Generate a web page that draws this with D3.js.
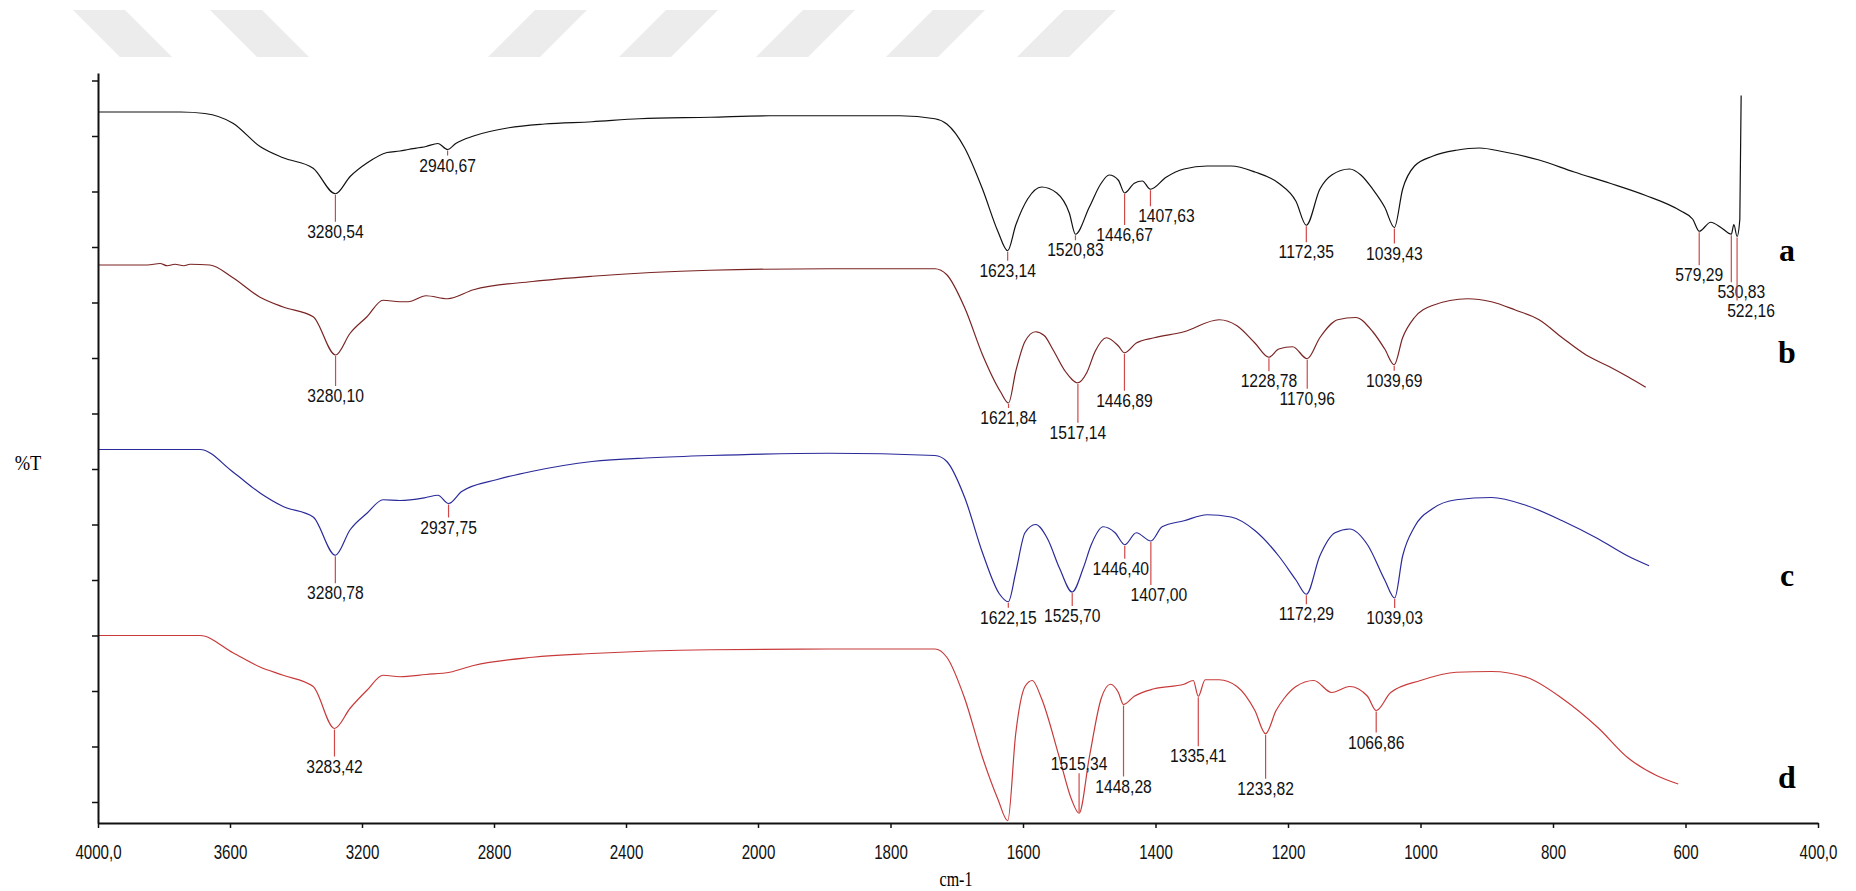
<!DOCTYPE html>
<html>
<head>
<meta charset="utf-8">
<script src="https://cdn.jsdelivr.net/npm/d3@7"></script>
<style>
  body { margin: 0; background: #fff; }
  svg { display: block; }
</style>
</head>
<body>
<svg id="chart" width="1856" height="891"></svg>
<script>
// ---- data (wavenumber cm-1, %T) ----
var xTicks = [4000, 3600, 3200, 2800, 2400, 2000, 1800, 1600, 1400, 1200, 1000, 800, 600, 400];
var yTicks = [2.8, 10.2, 17.6, 25.0, 32.4, 39.8, 47.2, 54.6, 62.0, 69.4, 76.8, 84.2, 91.6, 99.0];
var sampleNames = ['a', 'b', 'c', 'd'];

var spectrumA = [
  [4000, 94.8], [3750, 94.8], [3676, 94.6], [3591, 93.3], [3509, 90.2], [3439, 88.7],
  [3348, 87.3], [3280.54, 83.9], [3236, 86.2], [3185, 88.0], [3124, 89.4], [3085, 89.6],
  [3060, 89.8], [3006, 90.2], [2970, 90.6], [2940.67, 89.8], [2916, 90.6], [2862, 91.6],
  [2755, 92.7], [2647, 93.2], [2503, 93.5], [2360, 93.9], [2145, 94.1], [1983, 94.3],
  [1893, 94.3], [1786, 94.3], [1733, 93.9], [1715, 93.2], [1688, 90.0], [1661, 84.5],
  [1638, 78.9], [1623.14, 76.3], [1611, 79.7], [1593, 83.2], [1572, 84.8], [1549, 84.0],
  [1530, 81.3], [1520.83, 78.5], [1500, 82.1], [1482, 85.3], [1470, 86.4], [1456, 85.7],
  [1446.67, 84.0], [1432, 85.3], [1420, 85.6], [1407.63, 84.5], [1384, 86.1], [1357, 87.2],
  [1322, 87.6], [1286, 87.6], [1250, 86.8], [1214, 85.3], [1188, 82.9], [1172.35, 79.7],
  [1152, 84.5], [1134, 86.4], [1107, 87.2], [1090, 86.4], [1072, 84.5], [1054, 82.1],
  [1039.43, 79.4], [1027, 84.5], [1009, 87.6], [982, 88.9], [946, 89.7], [911, 90.0],
  [875, 89.5], [821, 88.4], [768, 86.8], [714, 85.3], [661, 83.7], [607, 81.6],
  [589, 80.5], [579.29, 78.9], [562, 80.1], [545, 79.3], [530.83, 78.5], [527, 79.8],
  [522.16, 78.2], [518, 80.5], [516, 97.0]
];

var spectrumB = [
  [4000, 74.4], [3850, 74.4], [3812, 74.6], [3790, 74.3], [3767, 74.5], [3740, 74.3],
  [3721, 74.5], [3661, 74.4], [3591, 72.7], [3509, 70.1], [3439, 68.8], [3348, 67.5],
  [3280.10, 62.4], [3236, 65.3], [3185, 67.5], [3136, 69.7], [3085, 69.5], [3060, 69.5],
  [3006, 70.3], [2941, 69.9], [2862, 71.1], [2683, 72.2], [2503, 72.9], [2324, 73.4],
  [2145, 73.7], [1893, 73.9], [1733, 73.9], [1715, 73.1], [1688, 68.7], [1661, 62.4],
  [1634, 57.5], [1621.84, 56.0], [1611, 60.2], [1597, 64.2], [1581, 65.5], [1568, 65.0],
  [1554, 63.0], [1536, 60.2], [1517.14, 58.7], [1504, 60.0], [1491, 62.9], [1474, 64.7],
  [1456, 63.6], [1446.89, 62.7], [1429, 64.0], [1402, 64.7], [1357, 65.5], [1304, 67.1],
  [1277, 66.3], [1250, 64.0], [1228.78, 62.1], [1214, 63.2], [1193, 63.5], [1170.96, 61.9],
  [1152, 64.7], [1125, 67.1], [1098, 67.4], [1072, 65.5], [1054, 63.2], [1039.69, 61.1],
  [1027, 64.7], [1009, 67.4], [982, 69.0], [929, 69.9], [893, 69.5], [857, 68.4],
  [821, 67.1], [786, 64.7], [750, 62.4], [714, 60.8], [687, 59.5], [660, 58.1]
];

var spectrumC = [
  [4000, 49.8], [3691, 49.8], [3591, 46.8], [3509, 44.0], [3439, 42.2], [3348, 40.8],
  [3280.78, 35.7], [3236, 39.1], [3185, 41.3], [3136, 43.1], [3085, 43.0], [3006, 43.4],
  [2970, 43.7], [2937.75, 42.6], [2898, 44.2], [2790, 45.8], [2683, 46.9], [2503, 48.2],
  [2324, 48.7], [2145, 49.0], [1893, 49.3], [1733, 49.0], [1715, 48.2], [1688, 43.4],
  [1661, 36.0], [1636, 30.6], [1622.15, 29.5], [1611, 33.4], [1597, 38.7], [1581, 39.8],
  [1563, 37.9], [1545, 34.0], [1525.70, 30.8], [1509, 34.0], [1497, 37.1], [1479, 39.5],
  [1461, 38.7], [1446.40, 37.1], [1429, 38.7], [1407.00, 37.6], [1390, 39.5], [1357, 40.3],
  [1322, 41.1], [1286, 40.8], [1250, 39.0], [1214, 35.6], [1188, 32.4], [1172.29, 30.5],
  [1152, 35.6], [1129, 38.7], [1107, 39.2], [1080, 37.1], [1054, 32.4], [1039.03, 30.0],
  [1027, 35.6], [1009, 39.5], [982, 41.9], [946, 43.1], [893, 43.4], [839, 42.3],
  [786, 40.3], [732, 37.9], [687, 35.6], [655, 34.3]
];

var spectrumD = [
  [4000, 25.0], [3691, 25.0], [3591, 22.7], [3509, 20.8], [3439, 19.7], [3348, 18.2],
  [3283.42, 12.6], [3236, 15.3], [3185, 17.7], [3136, 19.7], [3085, 19.5], [3006, 19.8],
  [2934, 20.1], [2862, 21.0], [2683, 22.1], [2503, 22.6], [2145, 23.1], [1893, 23.2],
  [1733, 23.2], [1715, 22.1], [1688, 16.6], [1661, 8.7], [1638, 3.2], [1623, 0.3],
  [1611, 11.9], [1597, 18.2], [1586, 19.0], [1572, 16.6], [1545, 8.7], [1527, 3.2],
  [1515.34, 1.3], [1500, 8.7], [1482, 16.6], [1468, 18.5], [1456, 17.4], [1448.28, 15.8],
  [1432, 16.9], [1402, 17.9], [1357, 18.5], [1343, 19.0], [1335.41, 16.9], [1325, 19.1],
  [1304, 19.1], [1277, 18.2], [1250, 15.0], [1233.82, 11.9], [1218, 15.0], [1206, 16.6],
  [1188, 18.2], [1161, 19.0], [1134, 17.4], [1107, 18.2], [1080, 16.9], [1066.86, 15.0],
  [1045, 17.4], [1000, 19.0], [946, 20.1], [893, 20.2], [839, 19.4], [786, 16.6],
  [732, 12.7], [687, 8.7], [643, 6.3], [611, 5.2]
];

var peaksA = [3280.54, 2940.67, 1623.14, 1520.83, 1446.67, 1407.63, 1172.35, 1039.43, 579.29, 530.83, 522.16];
var peaksB = [3280.10, 1621.84, 1517.14, 1446.89, 1228.78, 1170.96, 1039.69];
var peaksC = [3280.78, 2937.75, 1622.15, 1525.70, 1446.40, 1407.00, 1172.29, 1039.03];
var peaksD = [3283.42, 1515.34, 1448.28, 1335.41, 1233.82, 1066.86];

// ---- layout ----
var W = 1856, H = 891;
var plotLeft = 98, plotRight = 1818, plotTop = 73, plotBottom = 823;

// the instrument axis changes its scale at 2000 cm-1
var x = d3.scaleLinear().domain([4000, 2000, 400]).range([plotLeft, 758, plotRight]);
var y = d3.scaleLinear().domain([0, 100]).range([plotBottom, plotTop]);

var series = [
  { name: 'a', data: spectrumA, peaks: peaksA, color: '#111111' },
  { name: 'b', data: spectrumB, peaks: peaksB, color: '#7a2323' },
  { name: 'c', data: spectrumC, peaks: peaksC, color: '#2a2a9a' },
  { name: 'd', data: spectrumD, peaks: peaksD, color: '#c83a3a' }
];

// label baseline drop below the curve (px) and horizontal shift, per peak
var labelDrop = 44;
var labelTweak = {
  'a2940.67': { drop: 22 }, 'a1623.14': { drop: 26 }, 'a1520.83': { drop: 22 },
  'a1446.67': { drop: 48 }, 'a1407.63': { drop: 33, dx: 16 }, 'a1172.35': { drop: 33 },
  'a1039.43': { drop: 32 }, 'a579.29': { drop: 50 }, 'a530.83': { drop: 64, dx: 10 },
  'a522.16': { drop: 80, dx: 14 },
  'b3280.1': { drop: 47 },
  'b1621.84': { drop: 21 }, 'b1517.14': { drop: 56 }, 'b1446.89': { drop: 54 },
  'b1228.78': { drop: 30 }, 'b1170.96': { drop: 46 }, 'b1039.69': { drop: 22 },
  'c2937.75': { drop: 30 }, 'c1622.15': { drop: 22 }, 'c1525.7': { drop: 30 },
  'c1446.4': { drop: 30, dx: -4 }, 'c1407': { drop: 60, dx: 8 }, 'c1172.29': { drop: 26 },
  'c1039.03': { drop: 26 },
  'd1515.34': { drop: -43, up: 40 }, 'd1448.28': { drop: 88 }, 'd1335.41': { drop: 66 },
  'd1233.82': { drop: 61 }, 'd1066.86': { drop: 38 }
};
var nameY = { a: 251, b: 353, c: 576, d: 778 };

var svg = d3.select('#chart');

// faint watermark stripes at the top of the page
var stripes = svg.append('g').attr('fill', '#ececec');
[[73, 1], [210, 1], [488, -1], [619, -1], [756, -1], [886, -1], [1017, -1]].forEach(function (s) {
  var x0 = s[0], w = 52, k = 47, y0 = 10, y1 = 57;
  var pts = s[1] > 0
    ? [[x0, y0], [x0 + w, y0], [x0 + w + k, y1], [x0 + k, y1]]
    : [[x0 + k, y0], [x0 + k + w, y0], [x0 + w, y1], [x0, y1]];
  stripes.append('polygon').attr('points', pts.map(function (p) { return p.join(','); }).join(' '));
});

var fmtPeak = function (v) { return d3.format('.2f')(v).replace('.', ','); };
var sansFont = "'Liberation Sans', Arial, sans-serif";

// spectra
var line = d3.line()
  .x(function (d) { return x(d[0]); })
  .y(function (d) { return y(d[1]); })
  .curve(d3.curveMonotoneX);

series.forEach(function (s) {
  svg.append('path')
    .datum(s.data.slice().reverse())
    .attr('fill', 'none')
    .attr('stroke', s.color)
    .attr('stroke-width', 1.2)
    .attr('d', line);
});

// peak markers
series.forEach(function (s) {
  var lookup = new Map(s.data.map(function (d) { return [d[0], d[1]]; }));
  var g = svg.append('g');
  s.peaks.forEach(function (p) {
    var t = labelTweak[s.name + p] || {};
    var drop = t.drop !== undefined ? t.drop : labelDrop;
    var px = x(p), py = y(lookup.get(p));
    var y2 = t.up ? py - t.up : py + drop - 16;
    g.append('line')
      .attr('x1', px).attr('x2', px)
      .attr('y1', t.up ? py - 1 : py + 1)
      .attr('y2', y2)
      .attr('stroke', '#d04848').attr('stroke-width', 1.2);
    g.append('text')
      .attr('transform', 'translate(' + (px + (t.dx || 0)) + ',' + (py + drop) + ') scale(0.87,1)')
      .attr('text-anchor', 'middle')
      .style('font-family', sansFont)
      .style('font-size', '18px')
      .attr('fill', '#111')
      .text(fmtPeak(p));
  });
});

// axes
var xAxis = d3.axisBottom(x)
  .tickValues(xTicks)
  .tickSize(5)
  .tickSizeOuter(0)
  .tickFormat(function (d) { return (d === 4000 || d === 400) ? d + ',0' : d; });

var gx = svg.append('g').attr('transform', 'translate(0,' + plotBottom + ')').call(xAxis);
gx.select('.domain').attr('stroke', '#111').attr('stroke-width', 2);
gx.selectAll('.tick line').attr('stroke', '#111').attr('stroke-width', 1.5);
gx.selectAll('.tick text')
  .attr('dy', null).attr('y', null)
  .attr('transform', 'translate(0,36) scale(0.72,1)')
  .style('font-family', sansFont)
  .style('font-size', '21px')
  .attr('fill', '#111');

var yAxis = d3.axisLeft(y)
  .tickValues(yTicks)
  .tickSize(6)
  .tickSizeOuter(0)
  .tickFormat('');
var gy = svg.append('g').attr('transform', 'translate(' + plotLeft + ',0)').call(yAxis);
gy.select('.domain').attr('stroke', '#111').attr('stroke-width', 2);
gy.selectAll('.tick line').attr('stroke', '#111').attr('stroke-width', 1.5);

// axis titles
svg.append('text').attr('transform', 'translate(28,470) scale(0.88,1)').attr('text-anchor', 'middle')
  .style('font-family', "'Liberation Serif', serif").style('font-size', '21px').text('%T');
svg.append('text').attr('transform', 'translate(956,886) scale(0.8,1)').attr('text-anchor', 'middle')
  .style('font-family', "'Liberation Serif', serif").style('font-size', '20px').text('cm-1');

// sample letters
sampleNames.forEach(function (n) {
  svg.append('text').attr('x', 1787).attr('y', nameY[n] + 10).attr('text-anchor', 'middle')
    .style('font-family', "'Liberation Serif', serif").style('font-weight', 'bold')
    .style('font-size', '32px').text(n);
});
</script>
</body>
</html>
